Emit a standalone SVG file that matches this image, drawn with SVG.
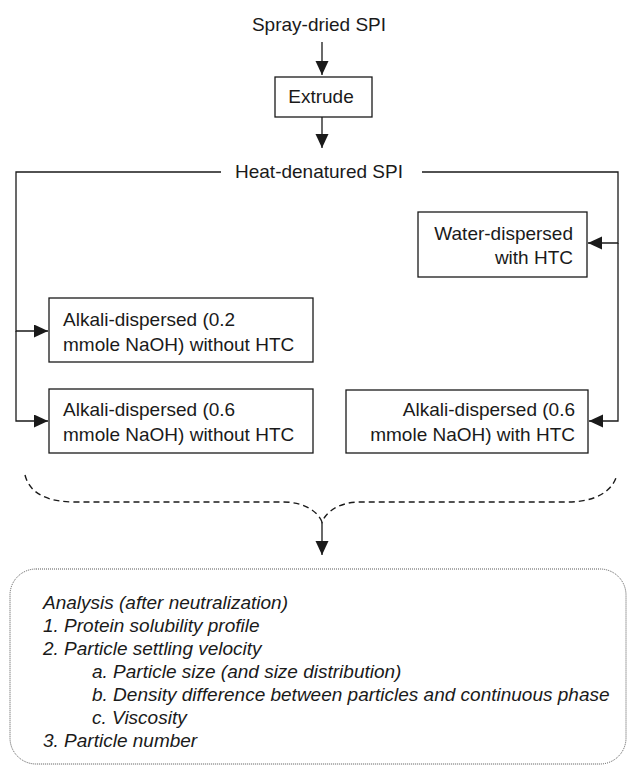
<svg xmlns="http://www.w3.org/2000/svg" width="629" height="766" viewBox="0 0 629 766">
<style>
.t{font-family:"Liberation Sans",Arial,sans-serif;font-size:19px;fill:#1a1a1a}
.i{font-style:italic}
.box{fill:#fff;stroke:#1a1a1a;stroke-width:1.3}
.c{fill:none;stroke:#1a1a1a;stroke-width:1.3}
.d{fill:none;stroke:#1a1a1a;stroke-width:1.4;stroke-dasharray:6 4}
</style>
<defs>
<marker id="ah" markerUnits="userSpaceOnUse" markerWidth="15" markerHeight="14" refX="14" refY="6.5" orient="auto">
<path d="M0,0 L14,6.5 L0,13 z" fill="#1a1a1a"/>
</marker>
</defs>
<g id="connectors">
<line class="c" x1="322" y1="42" x2="322" y2="75" marker-end="url(#ah)"/>
<line class="c" x1="322" y1="117" x2="322" y2="148" marker-end="url(#ah)"/>
<polyline class="c" points="221,172 16,172 16,331 48,331" marker-end="url(#ah)"/>
<polyline class="c" points="16,331 16,421 48,421" marker-end="url(#ah)"/>
<polyline class="c" points="422,172 618,172 618,243 588,243" marker-end="url(#ah)"/>
<polyline class="c" points="618,243 618,421 589,421" marker-end="url(#ah)"/>
<path class="d" d="M25,475 C30,495 50,502 75,502 L283,502 C305,502 318,512 322,522 C326,512 339,502 360,502 L567,502 C595,502 612,492 617,475"/>
<line class="c" x1="322" y1="522" x2="322" y2="555" marker-end="url(#ah)"/>
</g>
<g id="spray">
<text class="t" x="319" y="31" text-anchor="middle">Spray-dried SPI</text>
</g>
<g id="extrude">
<rect class="box" x="275" y="77" width="97" height="40"/>
<text class="t" x="321" y="103" text-anchor="middle">Extrude</text>
</g>
<g id="heat">
<text class="t" x="319" y="178" text-anchor="middle">Heat-denatured SPI</text>
</g>
<g id="water">
<rect class="box" x="418" y="212" width="169" height="65"/>
<text class="t" x="573" y="240" text-anchor="end">Water-dispersed</text>
<text class="t" x="573" y="264" text-anchor="end">with HTC</text>
</g>
<g id="alk02">
<rect class="box" x="49" y="298" width="264" height="64"/>
<text class="t" x="63" y="326">Alkali-dispersed (0.2</text>
<text class="t" x="63" y="351">mmole NaOH) without HTC</text>
</g>
<g id="alk06">
<rect class="box" x="49" y="389" width="264" height="64"/>
<text class="t" x="63" y="416">Alkali-dispersed (0.6</text>
<text class="t" x="63" y="441">mmole NaOH) without HTC</text>
</g>
<g id="alk06htc">
<rect class="box" x="346" y="390" width="242" height="63"/>
<text class="t" x="575" y="416" text-anchor="end">Alkali-dispersed (0.6</text>
<text class="t" x="575" y="441" text-anchor="end">mmole NaOH) with HTC</text>
</g>
<g id="analysis">
<rect x="10" y="569" width="616" height="195" rx="26" fill="none" stroke="#555" stroke-width="1" stroke-dasharray="1 1"/>
<text class="t i" x="43" y="609">Analysis (after neutralization)</text>
<text class="t i" x="43" y="632">1. Protein solubility profile</text>
<text class="t i" x="43" y="655">2. Particle settling velocity</text>
<text class="t i" x="92" y="678">a. Particle size (and size distribution)</text>
<text class="t i" x="92" y="701">b. Density difference between particles and continuous phase</text>
<text class="t i" x="92" y="724">c. Viscosity</text>
<text class="t i" x="43" y="747">3. Particle number</text>
</g>
</svg>
